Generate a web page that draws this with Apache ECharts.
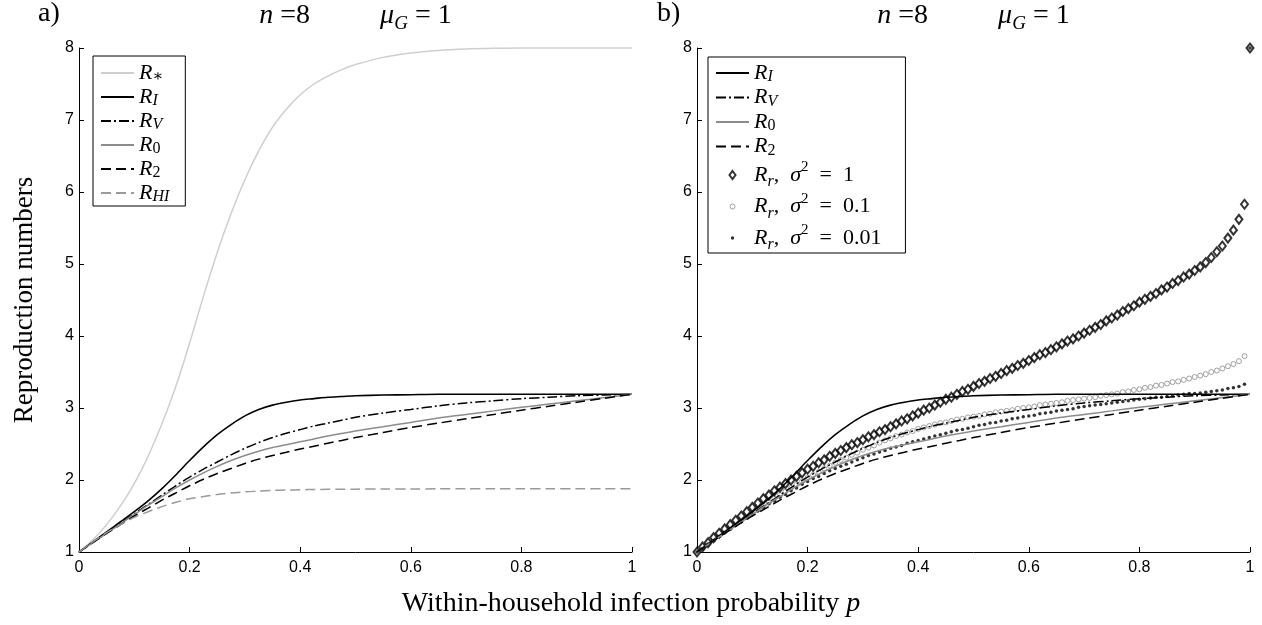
<!DOCTYPE html>
<html>
<head>
<meta charset="utf-8">
<script src="https://cdn.jsdelivr.net/npm/echarts@6/dist/echarts.min.js"></script>
<style>
  html, body { margin: 0; padding: 0; background: #fff; }
  #chart { width: 1262px; height: 625px; }
</style>
</head>
<body>
<div id="chart"></div>
<script>
// ---- data -------------------------------------------------------------
// p values at which the analytic reproduction numbers are listed
const CURVE_P = [0, 0.025, 0.05, 0.075, 0.1, 0.125, 0.15, 0.175, 0.2, 0.225, 0.25, 0.275,
  0.3, 0.325, 0.35, 0.375, 0.4, 0.425, 0.45, 0.475, 0.5,
  0.55, 0.6, 0.65, 0.7, 0.75, 0.8, 0.85, 0.9, 0.95, 1];

const R_STAR = [1.00, 1.17, 1.38, 1.64, 1.95, 2.33, 2.78, 3.30, 3.90, 4.55, 5.16, 5.70,
  6.17, 6.57, 6.90, 7.15, 7.35, 7.50, 7.61, 7.70, 7.77,
  7.87, 7.93, 7.965, 7.985, 7.995, 8.00, 8.00, 8.00, 8.00, 8.00];
const R_I = [1.00, 1.14, 1.28, 1.42, 1.56, 1.71, 1.88, 2.07, 2.27, 2.46, 2.63, 2.77,
  2.89, 2.98, 3.04, 3.08, 3.11, 3.13, 3.15, 3.16, 3.17,
  3.18, 3.185, 3.19, 3.19, 3.19, 3.19, 3.19, 3.19, 3.19, 3.19];
const R_V = [1.00, 1.13, 1.27, 1.40, 1.53, 1.66, 1.79, 1.92, 2.04, 2.15, 2.25, 2.35,
  2.44, 2.52, 2.59, 2.65, 2.70, 2.75, 2.79, 2.83, 2.87,
  2.93, 2.98, 3.03, 3.07, 3.10, 3.13, 3.15, 3.17, 3.18, 3.19];
const R_0 = [1.00, 1.13, 1.26, 1.39, 1.52, 1.65, 1.77, 1.89, 2.00, 2.10, 2.19, 2.27,
  2.34, 2.40, 2.45, 2.49, 2.53, 2.57, 2.61, 2.645, 2.68,
  2.74, 2.80, 2.86, 2.91, 2.96, 3.01, 3.055, 3.10, 3.145, 3.19];
const R_2 = [1.00, 1.13, 1.26, 1.38, 1.50, 1.61, 1.72, 1.82, 1.92, 2.01, 2.09, 2.16,
  2.23, 2.29, 2.34, 2.385, 2.43, 2.47, 2.51, 2.55, 2.59,
  2.66, 2.73, 2.79, 2.85, 2.91, 2.97, 3.025, 3.08, 3.135, 3.19];
const R_HI = [1.00, 1.14, 1.27, 1.38, 1.48, 1.56, 1.63, 1.69, 1.74, 1.77, 1.80, 1.82,
  1.835, 1.845, 1.855, 1.86, 1.865, 1.868, 1.87, 1.872, 1.873,
  1.875, 1.876, 1.877, 1.877, 1.877, 1.877, 1.877, 1.877, 1.877, 1.877];

// p values of the simulated R_r points
const SAMPLE_P = [0, 0.01, 0.02, 0.03, 0.04, 0.05, 0.06, 0.07, 0.08, 0.09,
  0.1, 0.11, 0.12, 0.13, 0.14, 0.15, 0.16, 0.17, 0.18, 0.19,
  0.2, 0.21, 0.22, 0.23, 0.24, 0.25, 0.26, 0.27, 0.28, 0.29,
  0.3, 0.31, 0.32, 0.33, 0.34, 0.35, 0.36, 0.37, 0.38, 0.39,
  0.4, 0.41, 0.42, 0.43, 0.44, 0.45, 0.46, 0.47, 0.48, 0.49,
  0.5, 0.51, 0.52, 0.53, 0.54, 0.55, 0.56, 0.57, 0.58, 0.59,
  0.6, 0.61, 0.62, 0.63, 0.64, 0.65, 0.66, 0.67, 0.68, 0.69,
  0.7, 0.71, 0.72, 0.73, 0.74, 0.75, 0.76, 0.77, 0.78, 0.79,
  0.8, 0.81, 0.82, 0.83, 0.84, 0.85, 0.86, 0.87, 0.88, 0.89,
  0.9, 0.91, 0.92, 0.93, 0.94, 0.95, 0.96, 0.97, 0.98, 0.99, 1];

// R_r, sigma^2 = 1
const RR_VAR_1 = [1.00, 1.07, 1.13, 1.20, 1.26, 1.32, 1.38, 1.44, 1.50, 1.56,
  1.62, 1.68, 1.74, 1.79, 1.85, 1.90, 1.95, 2.00, 2.05, 2.10,
  2.15, 2.19, 2.24, 2.28, 2.33, 2.37, 2.41, 2.45, 2.49, 2.52,
  2.56, 2.60, 2.63, 2.67, 2.70, 2.74, 2.78, 2.82, 2.85, 2.89,
  2.93, 2.97, 3.00, 3.04, 3.08, 3.12, 3.15, 3.19, 3.23, 3.26,
  3.30, 3.34, 3.37, 3.41, 3.44, 3.48, 3.52, 3.55, 3.59, 3.62,
  3.66, 3.70, 3.74, 3.77, 3.81, 3.85, 3.89, 3.93, 3.96, 4.00,
  4.04, 4.08, 4.12, 4.16, 4.21, 4.25, 4.29, 4.34, 4.38, 4.42,
  4.47, 4.51, 4.55, 4.59, 4.64, 4.68, 4.73, 4.77, 4.82, 4.86,
  4.91, 4.96, 5.02, 5.09, 5.17, 5.25, 5.36, 5.47, 5.62, 5.83, 8.00];

// R_r, sigma^2 = 0.1
const RR_VAR_01 = [1.00, 1.06, 1.11, 1.17, 1.23, 1.28, 1.33, 1.39, 1.44, 1.49,
  1.54, 1.59, 1.64, 1.69, 1.74, 1.79, 1.84, 1.89, 1.94, 1.98,
  2.03, 2.07, 2.11, 2.16, 2.20, 2.24, 2.28, 2.31, 2.35, 2.38,
  2.42, 2.45, 2.48, 2.52, 2.55, 2.58, 2.61, 2.63, 2.66, 2.68,
  2.71, 2.73, 2.75, 2.77, 2.79, 2.80, 2.82, 2.84, 2.85, 2.87,
  2.88, 2.89, 2.91, 2.92, 2.94, 2.95, 2.96, 2.97, 2.99, 3.00,
  3.01, 3.02, 3.04, 3.05, 3.06, 3.07, 3.08, 3.10, 3.11, 3.12,
  3.13, 3.14, 3.15, 3.17, 3.18, 3.19, 3.20, 3.22, 3.23, 3.25,
  3.26, 3.28, 3.29, 3.31, 3.32, 3.34, 3.36, 3.37, 3.39, 3.41,
  3.43, 3.45, 3.47, 3.50, 3.52, 3.55, 3.58, 3.61, 3.65, 3.72, 8.00];

// R_r, sigma^2 = 0.01
const RR_VAR_001 = [1.00, 1.05, 1.11, 1.16, 1.22, 1.27, 1.32, 1.37, 1.42, 1.47,
  1.52, 1.57, 1.62, 1.67, 1.71, 1.76, 1.80, 1.85, 1.89, 1.94,
  1.98, 2.02, 2.05, 2.09, 2.13, 2.16, 2.19, 2.22, 2.25, 2.28,
  2.31, 2.34, 2.36, 2.39, 2.41, 2.44, 2.46, 2.48, 2.51, 2.53,
  2.55, 2.57, 2.59, 2.61, 2.63, 2.65, 2.67, 2.69, 2.70, 2.72,
  2.74, 2.76, 2.77, 2.79, 2.80, 2.82, 2.83, 2.85, 2.86, 2.88,
  2.89, 2.90, 2.92, 2.93, 2.94, 2.96, 2.97, 2.98, 2.99, 3.01,
  3.02, 3.03, 3.04, 3.05, 3.06, 3.07, 3.08, 3.09, 3.10, 3.11,
  3.12, 3.13, 3.14, 3.15, 3.15, 3.16, 3.17, 3.18, 3.19, 3.20,
  3.20, 3.21, 3.22, 3.23, 3.24, 3.25, 3.27, 3.28, 3.30, 3.33, 8.00];

// axis ranges and tick steps
const X_RANGE = [0, 1];
const X_STEP = 0.2;
const Y_RANGE = [1, 8];
const Y_STEP = 1;

// texts
const PANEL_TAGS = ['a)', 'b)'];
const PANEL_TITLE = '{i|n} =8          {i|μ}{s|G} = 1';
const X_NAME = 'Within-household infection probability {i|p}';
const Y_NAME = 'Reproduction numbers';

const LEGEND_TEXT = {
  'R*':   '{i|R}{s|∗}',
  'RI':   '{i|R}{s|I}',
  'RV':   '{i|R}{s|V}',
  'R0':   '{i|R}{sn|0}',
  'R2':   '{i|R}{sn|2}',
  'RHI':  '{i|R}{s|HI}',
  'Rr1':  '{I|R}{S|r}{T|,  }{I|σ}{P|2}{T|  =  1}',
  'Rr01': '{I|R}{S|r}{T|,  }{I|σ}{P|2}{T|  =  0.1}',
  'Rr001':'{I|R}{S|r}{T|,  }{I|σ}{P|2}{T|  =  0.01}'
};

// ---- styling ----------------------------------------------------------
const SERIF = '"Liberation Serif", "DejaVu Serif", serif';
const SANS = '"Liberation Sans", Arial, sans-serif';

const RICH = {
  i:  { fontFamily: SERIF, fontStyle: 'italic', fontSize: 22, lineHeight: 24, color: '#000' },
  s:  { fontFamily: SERIF, fontStyle: 'italic', fontSize: 16, lineHeight: 15, verticalAlign: 'bottom', color: '#000' },
  sn: { fontFamily: SERIF, fontSize: 16, lineHeight: 15, verticalAlign: 'bottom', color: '#000' },
  I:  { fontFamily: SERIF, fontStyle: 'italic', fontSize: 22, lineHeight: 30, color: '#000' },
  S:  { fontFamily: SERIF, fontStyle: 'italic', fontSize: 16, lineHeight: 20, verticalAlign: 'bottom', color: '#000' },
  P:  { fontFamily: SERIF, fontSize: 15, lineHeight: 20, verticalAlign: 'top', color: '#000' },
  T:  { fontFamily: SERIF, fontSize: 22, lineHeight: 30, color: '#000' }
};

const TITLE_RICH = {
  i: { fontFamily: SERIF, fontStyle: 'italic', fontSize: 28, lineHeight: 34, color: '#000' },
  s: { fontFamily: SERIF, fontStyle: 'italic', fontSize: 19, lineHeight: 19, verticalAlign: 'bottom', color: '#000' }
};
const XNAME_RICH = {
  i: { fontFamily: SERIF, fontStyle: 'italic', fontSize: 28, lineHeight: 34, color: '#000' }
};

const GRID_TOP = 48, GRID_H = 504, GRID_W = 553;
const GRID_LEFT = [79, 697];

const chart = echarts.init(document.getElementById('chart'), null, { renderer: 'canvas' });

function xAxis(idx) {
  return {
    type: 'value', gridIndex: idx, min: X_RANGE[0], max: X_RANGE[1], interval: X_STEP,
    axisLine: { show: true, onZero: false, lineStyle: { color: '#000', width: 1 } },
    axisTick: { show: true, inside: true, length: 5, lineStyle: { color: '#000' } },
    axisLabel: { color: '#000', fontFamily: SANS, fontSize: 16, margin: 8 },
    splitLine: { show: false }
  };
}
function yAxis(idx) {
  const ax = {
    type: 'value', gridIndex: idx, min: Y_RANGE[0], max: Y_RANGE[1], interval: Y_STEP,
    axisLine: { show: true, onZero: false, lineStyle: { color: '#000', width: 1 } },
    axisTick: { show: true, inside: true, length: 5, lineStyle: { color: '#000' } },
    axisLabel: { color: '#000', fontFamily: SANS, fontSize: 16, margin: 5 },
    splitLine: { show: false }
  };
  if (idx === 0) {
    ax.name = Y_NAME;
    ax.nameLocation = 'middle';
    ax.nameRotate = 90;
    ax.nameGap = 41;
    ax.nameTextStyle = { fontFamily: SERIF, fontSize: 27, color: '#000' };
  }
  return ax;
}

function pairs(xs, ys) { return xs.map((x, k) => [x, ys[k]]); }

function curve(name, idx, values, color, width, dash) {
  return {
    name, type: 'line', xAxisIndex: idx, yAxisIndex: idx,
    data: pairs(CURVE_P, values), smooth: 0.3,
    symbol: 'none', showSymbol: false, clip: false, silent: true,
    lineStyle: { color, width, type: dash || 'solid' },
    itemStyle: { color }
  };
}

const DASH = [10, 5];
const DASH_DOT = [10, 3, 2, 3];

const series = [
  // panel a
  curve('R*', 0, R_STAR, '#cfcfcf', 1.5),
  curve('RI', 0, R_I, '#000', 1.6),
  curve('RV', 0, R_V, '#000', 1.5, DASH_DOT),
  curve('R0', 0, R_0, '#8c8c8c', 1.5),
  curve('R2', 0, R_2, '#000', 1.5, DASH),
  curve('RHI', 0, R_HI, '#9a9a9a', 1.5, DASH),
  // panel b
  curve('RI', 1, R_I, '#000', 1.6),
  curve('RV', 1, R_V, '#000', 1.5, DASH_DOT),
  curve('R0', 1, R_0, '#8c8c8c', 1.5),
  curve('R2', 1, R_2, '#000', 1.5, DASH),
  {
    name: 'Rr01', type: 'scatter', xAxisIndex: 1, yAxisIndex: 1, silent: true,
    data: pairs(SAMPLE_P, RR_VAR_01), symbol: 'circle', symbolSize: 5,
    itemStyle: { color: '#fff', borderColor: '#8a8a8a', borderWidth: 1 }
  },
  {
    name: 'Rr1', type: 'scatter', xAxisIndex: 1, yAxisIndex: 1, silent: true,
    data: pairs(SAMPLE_P, RR_VAR_1), symbol: 'emptyDiamond', symbolSize: [7, 9],
    itemStyle: { color: '#000', borderColor: '#000', borderWidth: 2 }
  },
  {
    name: 'Rr001', type: 'scatter', xAxisIndex: 1, yAxisIndex: 1, silent: true,
    data: pairs(SAMPLE_P, RR_VAR_001), symbol: 'circle', symbolSize: 3.5,
    itemStyle: { color: '#000' }
  }
];

const hideSymbol = { opacity: 0 };
const legendCommon = {
  orient: 'vertical', itemWidth: 33, itemHeight: 14, selectedMode: false,
  borderColor: '#000', borderWidth: 1, backgroundColor: '#fff', borderRadius: 0,
  formatter: name => LEGEND_TEXT[name],
  textStyle: { fontFamily: SERIF, fontSize: 22, color: '#000', rich: RICH }
};

const titleFont = { fontFamily: SERIF, fontSize: 28, fontWeight: 'normal', color: '#000' };

const option = {
  backgroundColor: '#fff',
  animation: false,
  grid: GRID_LEFT.map(l => ({
    left: l, top: GRID_TOP, width: GRID_W, height: GRID_H,
    containLabel: false, outerBoundsMode: 'none', show: false
  })),
  xAxis: [xAxis(0), xAxis(1)],
  yAxis: [yAxis(0), yAxis(1)],
  title: [
    { text: PANEL_TAGS[0], left: 38, top: 0, padding: 0, textStyle: titleFont },
    { text: PANEL_TAGS[1], left: 657, top: 0, padding: 0, textStyle: titleFont },
    { text: PANEL_TITLE, left: GRID_LEFT[0] + GRID_W / 2, textAlign: 'center', top: -1, padding: 0,
      textStyle: Object.assign({ rich: TITLE_RICH }, titleFont) },
    { text: PANEL_TITLE, left: GRID_LEFT[1] + GRID_W / 2, textAlign: 'center', top: -1, padding: 0,
      textStyle: Object.assign({ rich: TITLE_RICH }, titleFont) },
    { text: X_NAME, left: 631, textAlign: 'center', top: 587, padding: 0,
      textStyle: Object.assign({ rich: XNAME_RICH }, titleFont) }
  ],
  legend: [
    Object.assign({}, legendCommon, {
      left: 93, top: 56, itemGap: 1, padding: [6, 16, 1, 7],
      itemStyle: hideSymbol,
      data: ['R*', 'RI', 'RV', 'R0', 'R2', 'RHI']
    }),
    Object.assign({}, legendCommon, {
      left: 708, top: 57, itemGap: 1.5, padding: [5, 24, 0, 7],
      data: [
        { name: 'RI', itemStyle: hideSymbol },
        { name: 'RV', itemStyle: hideSymbol },
        { name: 'R0', itemStyle: hideSymbol },
        { name: 'R2', itemStyle: hideSymbol },
        { name: 'Rr1', icon: 'path://M0 0M14 14M7 3L10 7L7 11L4 7Z',
          itemStyle: { color: '#fff', borderColor: '#000', borderWidth: 2 } },
        { name: 'Rr01', icon: 'path://M0 0M14 14M7 4.5A2.5 2.5 0 1 1 7 9.5A2.5 2.5 0 1 1 7 4.5Z',
          itemStyle: { color: '#fff', borderColor: '#8a8a8a', borderWidth: 1 } },
        { name: 'Rr001', icon: 'path://M0 0M14 14M7 5.3A1.7 1.7 0 1 1 7 8.7A1.7 1.7 0 1 1 7 5.3Z',
          itemStyle: { color: '#000', borderWidth: 0 } }
      ]
    })
  ],
  series
};

chart.setOption(option);
</script>
</body>
</html>
